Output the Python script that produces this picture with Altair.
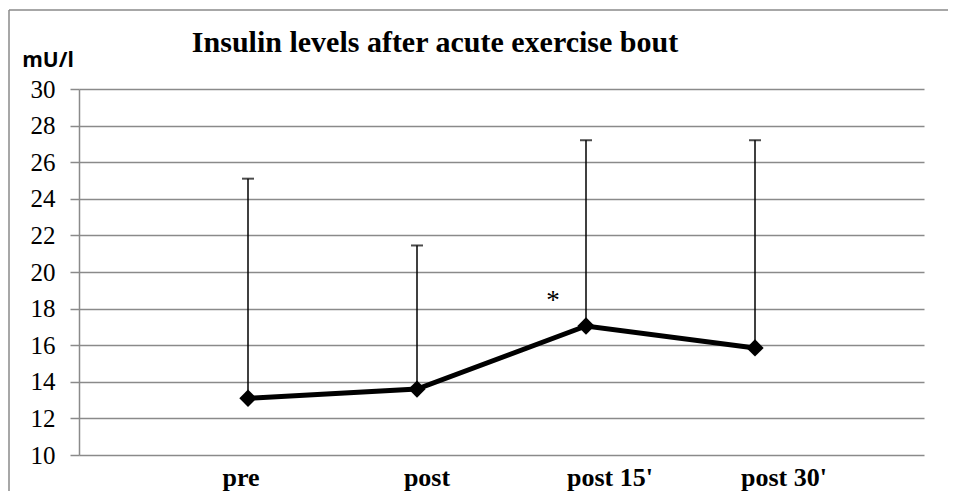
import altair as alt
import pandas as pd

# ---- data ----
categories = ["pre", "post", "post 15'", "post 30'"]
means = [13.1, 13.6, 17.05, 15.85]
upper = [25.1, 21.45, 27.2, 27.2]
significance = ["", "", "*", ""]
y_ticks = [10, 12, 14, 16, 18, 20, 22, 24, 26, 28, 30]
chart_title = "Insulin levels after acute exercise bout"
y_unit = "mU/l"

# ---- styling (not data) ----
label_dx = [-7, 10, 24, 29]
W, H = 845, 366
PAD = {"left": 71, "top": 81, "right": 24, "bottom": 36}
GRID = "#8a8a8a"

df = pd.DataFrame({"cat": categories, "mean": means, "upper": upper, "sig": significance})

xscale = alt.Scale(type="point", domain=categories, padding=1)
yscale = alt.Scale(domain=[10, 30], nice=False, zero=False)

x_enc = alt.X("cat:N", scale=xscale, axis=None, sort=categories)

yaxis = alt.Axis(
    values=y_ticks, tickCount=11, grid=True, gridColor=GRID, gridWidth=1.5,
    domainColor=GRID, domainWidth=1.5, tickColor=GRID, tickWidth=1.5, tickSize=9,
    labelFont="Liberation Serif", labelFontSize=25, labelColor="black",
    labelPadding=15, labelOverlap=False, labelFlush=False, title=None,
)


def yenc(field):
    return alt.Y(field, type="quantitative", scale=yscale, axis=yaxis)


base = alt.Chart(df)

err = base.mark_rule(color="black", strokeWidth=1.5).encode(
    x=x_enc, y=yenc("mean"), y2="upper:Q",
)
cap = base.mark_tick(color="black", size=12, thickness=2).encode(
    x=x_enc, y=yenc("upper")
)
line = base.mark_line(color="black", strokeWidth=5).encode(
    x=x_enc, y=yenc("mean")
)
pts = base.mark_point(shape="diamond", filled=True, size=300, color="black", opacity=1).encode(
    x=x_enc, y=yenc("mean")
)
star = base.transform_filter("datum.sig != ''").mark_text(
    font="Liberation Serif", fontSize=27, color="black", dx=-33, dy=-25, baseline="middle"
).encode(x=x_enc, y=yenc("mean"), text="sig:N")

labels = []
for c, dx in zip(categories, label_dx):
    labels.append(
        base.transform_filter(alt.datum.cat == c).mark_text(
            font="Liberation Serif", fontSize=26, fontWeight="bold", color="black",
            baseline="alphabetic", align="center", dx=dx,
        ).encode(x=x_enc, y=alt.value(H + 31), text="cat:N")
    )

tdf = pd.DataFrame({"t": [chart_title]})
title = alt.Chart(tdf).mark_text(
    font="Liberation Serif", fontSize=30, fontWeight="bold", color="black",
    align="center", baseline="alphabetic",
).encode(x=alt.value(356), y=alt.value(-37), text="t:N")

udf = pd.DataFrame({"t": [y_unit]})
unit = alt.Chart(udf).mark_text(
    font="Open Sans", fontSize=21, fontWeight="bold", color="black",
    align="center", baseline="alphabetic",
).encode(x=alt.value(-31), y=alt.value(-22), text="t:N")

bdf = pd.DataFrame({"b": [0]})
border_left = alt.Chart(bdf).mark_rule(color=GRID, strokeWidth=1.5).encode(
    x=alt.value(-70), y=alt.value(-79), y2=alt.value(H + PAD["bottom"])
)
border_top = alt.Chart(bdf).mark_rule(color=GRID, strokeWidth=1.5).encode(
    x=alt.value(-70), x2=alt.value(W + PAD["right"]), y=alt.value(-79)
)

chart = alt.layer(
    err, cap, line, pts, star, *labels, title, unit, border_left, border_top
).properties(
    width=W, height=H,
    autosize=alt.AutoSizeParams(type="none"),
    padding=PAD,
    background="white",
).configure_view(strokeWidth=0)

chart.save("out.html", embed_options={"renderer": "svg", "actions": False})
